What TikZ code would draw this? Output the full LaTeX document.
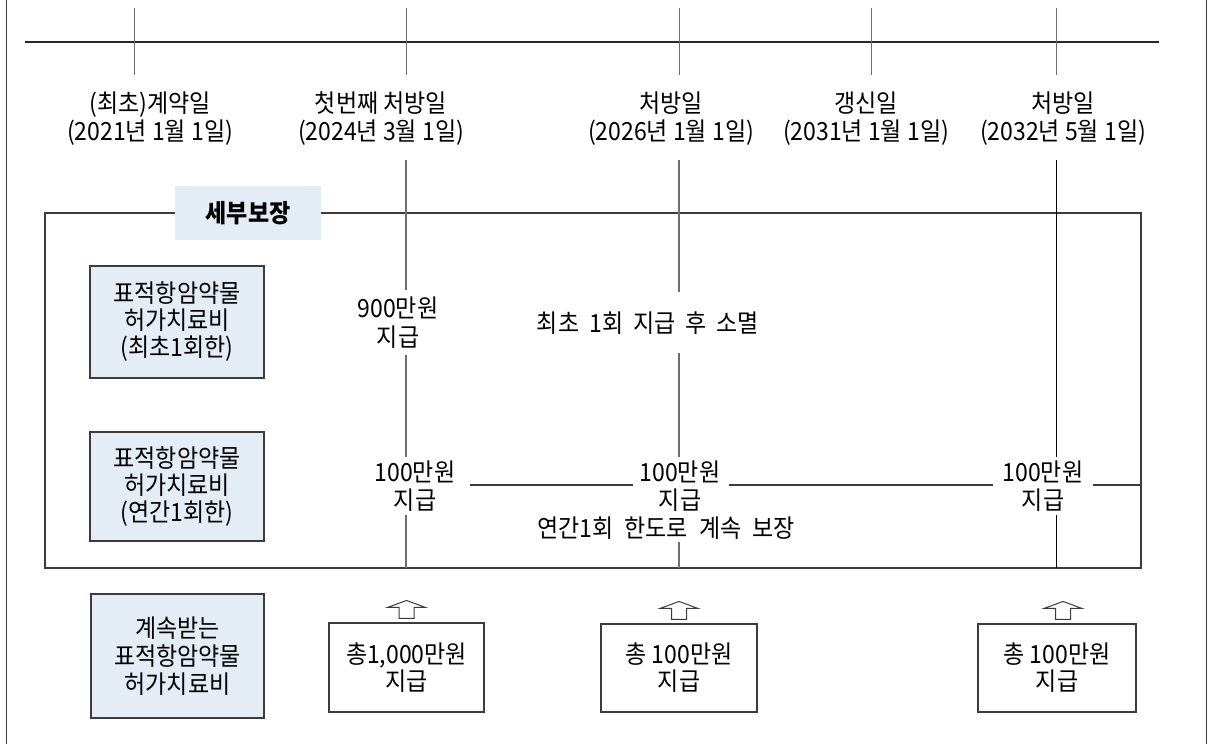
\documentclass[tikz,border=0pt]{standalone}
\usepackage{fontspec}
\setmainfont{Noto Sans CJK KR}[FakeStretch=0.92]
\definecolor{boxblue}{RGB}{228,236,246}
\definecolor{boxline}{RGB}{60,60,60}
\definecolor{lgray}{RGB}{110,110,110}
\begin{document}
\begin{tikzpicture}[x=1pt,y=-1pt,
  txt/.style={align=center,font=\fontsize{25}{28}\selectfont,inner sep=0pt},
  bluebox/.style={draw=boxline,fill=boxblue,line width=1.1pt,align=center,
    font=\fontsize{25}{27}\selectfont,inner sep=0pt},
  whitebox/.style={draw=boxline,fill=white,line width=1.1pt,align=center,
    font=\fontsize{25}{27}\selectfont,inner sep=0pt},
  tline/.style={draw=black!85,line width=1.3pt},
  tick/.style={draw=lgray,line width=1pt},
  vline/.style={draw=lgray,line width=1.1pt},
  frameline/.style={draw=boxline,line width=1.2pt},
  uparrow/.style={draw=boxline,fill=white,line width=1pt,line join=miter}]
\useasboundingbox (0,0) rectangle (1208,744);
% outer side frame
\draw[frameline] (6.5,0) -- (6.5,744);
\draw[frameline] (1206.5,0) -- (1206.5,744);
% timeline
\coordinate (tl) at (25,42);
\coordinate (tr) at (1159,42);
\draw[tline] (tl) -- (tr);
\foreach \x in {134,406,679,871,1056}{\draw[tick] (\x,8) -- (\x,75);}
% date labels
\node[txt] (d1) at (150,119) {(최초)계약일\\(2021년 1월 1일)};
\node[txt] (d2) at (381,119) {첫번째 처방일\\(2024년 3월 1일)};
\node[txt] (d3) at (671,119) {처방일\\(2026년 1월 1일)};
\node[txt] (d4) at (866,119) {갱신일\\(2031년 1월 1일)};
\node[txt] (d5) at (1063,119) {처방일\\(2032년 5월 1일)};
% main frame
\node[draw=boxline,line width=1.2pt,minimum width=1096pt,minimum height=355pt,inner sep=0pt] (frame) at (593,390.5) {};
% vertical lines
\draw[vline] (406,160) -- (406,290);
\draw[vline] (406,355) -- (406,457);
\draw[vline] (406,515) -- (406,568);
\draw[vline] (679,160) -- (679,292);
\draw[vline] (679,353) -- (679,457);
\draw[vline] (679,542) -- (679,568);
\draw[vline,draw=black,line width=0.9pt] (1056,160) -- (1056,457);
\draw[vline,draw=black,line width=0.9pt] (1056,515) -- (1056,568);
% row 2 horizontal
\draw[vline,draw=boxline] (470,485) -- (633,485);
\draw[vline,draw=boxline] (729,485) -- (993,485);
\draw[vline,draw=boxline] (1093,485) -- (frame.east |- 0,485);
% section label
\node[fill=boxblue,minimum width=146pt,minimum height=54pt,inner sep=0pt,
  font=\fontsize{25}{27}\selectfont\bfseries] (lbl) at (248,213) {세부보장};
% left boxes
\node[bluebox,minimum width=174pt,minimum height=112pt] (b1) at (177,322) {표적항암약물\\허가치료비\\(최초1회한)};
\node[bluebox,minimum width=174pt,minimum height=109pt] (b2) at (177,486.5) {표적항암약물\\허가치료비\\(연간1회한)};
\node[bluebox,minimum width=173pt,minimum height=124pt,font=\fontsize{25}{28}\selectfont] (b3) at (177.5,656) {계속받는\\표적항암약물\\허가치료비};
% payment labels
\node[txt,font=\fontsize{25}{29}\selectfont] (p900) at (398,322.5) {900만원\\지급};
\node[txt] (ex1) at (648,323) {최초\hspace{10pt}1회\hspace{10pt}지급\hspace{10pt}후\hspace{10pt}소멸};
\node[txt] (p1) at (415,486) {100만원\\지급};
\node[txt] (p2) at (680,486) {100만원\\지급};
\node[txt] (p3) at (1043,486) {100만원\\지급};
\node[txt] (ex2) at (666,528) {연간1회\hspace{11pt}한도로\hspace{11pt}계속\hspace{11pt}보장};
% bottom totals
\node[whitebox,minimum width=155pt,minimum height=89pt] (tA) at (406.5,667.5) {총1,000만원\\지급};
\node[whitebox,minimum width=156pt,minimum height=88pt] (tB) at (679,668) {총 100만원\\지급};
\node[whitebox,minimum width=158pt,minimum height=88pt] (tC) at (1057,668) {총 100만원\\지급};
% up arrows
\foreach \b/\dx in {tA/0,tB/0,tC/6}{
  \draw[uparrow] ([xshift=\dx pt,yshift=4pt]\b.north) ++(-7.5,0) -- ++(0,-11) -- ++(-11.5,0)
    -- ++(19,-7) -- ++(19,7) -- ++(-11.5,0) -- ++(0,11) -- cycle;
}
\end{tikzpicture}
\end{document}
